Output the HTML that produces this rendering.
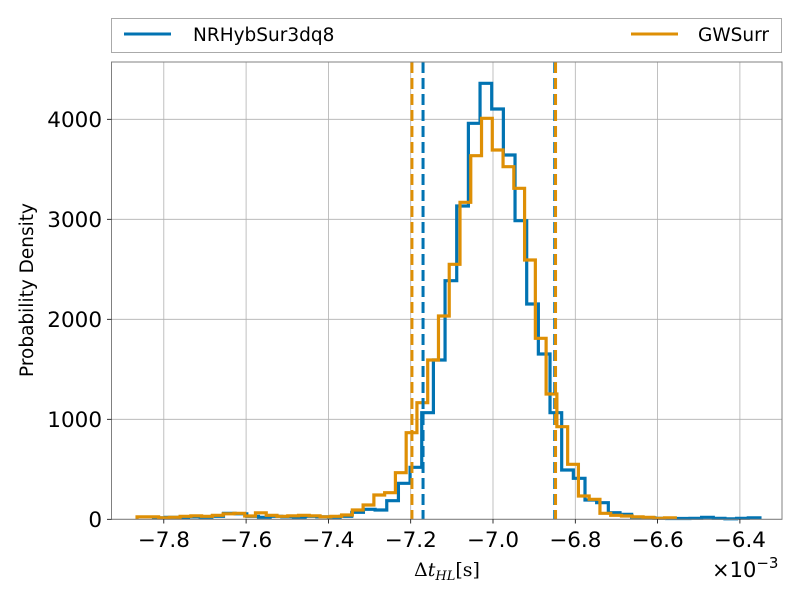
<!DOCTYPE html>
<html><head><meta charset="utf-8"><style>
body{margin:0;background:#fff}
svg text{font-family:"DejaVu Sans","Liberation Sans",sans-serif;fill:#000}
</style></head><body>
<svg id="chart" width="800" height="600" xmlns="http://www.w3.org/2000/svg">
<rect width="800" height="600" fill="#fff"/>
<g id="grid"></g>
<g id="series"></g>
<rect x="111.5" y="62" width="670.5" height="457.3" fill="none" stroke="#808080" stroke-width="1"/>
<g id="ticks"></g>
<text transform="translate(33,290) rotate(-90)" text-anchor="middle" font-size="18.5">Probability Density</text>
<text x="447" y="576" text-anchor="middle" font-size="19" style="font-family:'DejaVu Serif','Liberation Serif',serif">Δ<tspan font-style="italic">t</tspan><tspan font-style="italic" font-size="13" dy="4">HL</tspan><tspan dy="-4">[s]</tspan></text>
<text x="712" y="577" font-size="21">×10<tspan font-size="15" dy="-9">−3</tspan></text>
<g>
<rect x="111.5" y="18.5" width="670" height="34" fill="#fff" stroke="#aaa"/>
<line x1="124" x2="171" y1="34" y2="34" stroke="#0173b2" stroke-width="3"/>
<text x="193" y="41" font-size="18.5">NRHybSur3dq8</text>
<line x1="631" x2="678" y1="34" y2="34" stroke="#de8f05" stroke-width="3"/>
<text x="698" y="41" font-size="18.5">GWSurr</text>
</g>
</svg>
<script>
const blueStart=-7.825, blueWidth=0.02834;
const blueValues=[15,20,15,25,20,30,60,55,30,20,30,25,20,30,25,20,30,70,100,93,186,360,520,1066,1593,2386,3133,3960,4360,4103,3643,2986,2153,1653,1066,493,410,193,166,66,50,20,15,10,8,8,10,20,10,5,10,15];
const orangeStart=-7.865, orangeWidth=0.02616;
const orangeValues=[25,25,15,20,30,35,30,40,55,60,33,65,40,30,35,40,35,25,30,43,93,143,243,266,466,866,1166,1593,2033,2550,3170,3636,4010,3693,3526,3310,2593,1810,1253,926,550,233,200,60,40,33,25,20,10,15];
const blueCI=[-7.170,-6.850];
const orangeCI=[-7.197,-6.848];
const xTicks=[-7.8,-7.6,-7.4,-7.2,-7.0,-6.8,-6.6,-6.4];
const xTickLabels=["−7.8","−7.6","−7.4","−7.2","−7.0","−6.8","−6.6","−6.4"];
const yTicks=[0,1000,2000,3000,4000];
const yTickLabels=["0","1000","2000","3000","4000"];

const X=v=>493+(v+7.0)*411.5;
const Y=v=>519.3-v*0.1;
const NS="http://www.w3.org/2000/svg";
function mk(tag,attrs,parent){const e=document.createElementNS(NS,tag);for(const k in attrs)e.setAttribute(k,attrs[k]);parent.appendChild(e);return e;}
const grid=document.getElementById('grid'),ticks=document.getElementById('ticks'),series=document.getElementById('series');
xTicks.forEach((t,i)=>{
 const g=mk('line',{x1:X(t),x2:X(t),y1:62,y2:519.3,stroke:'#b0b0b0','stroke-width':0.8},grid);
 
 
 const tk=mk('line',{x1:X(t),x2:X(t),y1:519.3,y2:523.5,stroke:'#000','stroke-width':0.8},ticks);
 
 
 const tx=mk('text',{x:X(t),y:547,'text-anchor':'middle','font-size':21.5},ticks);
 tx.textContent=xTickLabels[i];
 
 
});
yTicks.forEach((t,i)=>{
 const g=mk('line',{x1:111.5,x2:782,y1:Y(t),y2:Y(t),stroke:'#b0b0b0','stroke-width':0.8},grid);
 
 
 const tk=mk('line',{x1:107,x2:111.5,y1:Y(t),y2:Y(t),stroke:'#000','stroke-width':0.8},ticks);
 
 
 const tx=mk('text',{x:102,y:Y(t)+7.5,'text-anchor':'end','font-size':21.5},ticks);
 tx.textContent=yTickLabels[i];
 
 
});
function stepPath(start,w,vals){
 let d='M'+X(start)+','+Y(0);
 vals.forEach((v,i)=>{d+=' L'+X(start+i*w)+','+Y(v)+' L'+X(start+(i+1)*w)+','+Y(v);});
 d+=' L'+X(start+vals.length*w)+','+Y(0);
 return d;
}
const pb=mk('path',{d:stepPath(blueStart,blueWidth,blueValues),fill:'none',stroke:'#0173b2','stroke-width':3.2},series);


const po=mk('path',{d:stepPath(orangeStart,orangeWidth,orangeValues),fill:'none',stroke:'#de8f05','stroke-width':3.2},series);


blueCI.forEach(v=>{
 const l=mk('line',{x1:X(v),x2:X(v),y1:62,y2:519.3,stroke:'#0173b2','stroke-width':3,'stroke-dasharray':'11,5'},series);
 
 
});
orangeCI.forEach(v=>{
 const l=mk('line',{x1:X(v),x2:X(v),y1:62,y2:519.3,stroke:'#de8f05','stroke-width':3,'stroke-dasharray':'11,5'},series);
 
 
});
</script>
</body></html>
